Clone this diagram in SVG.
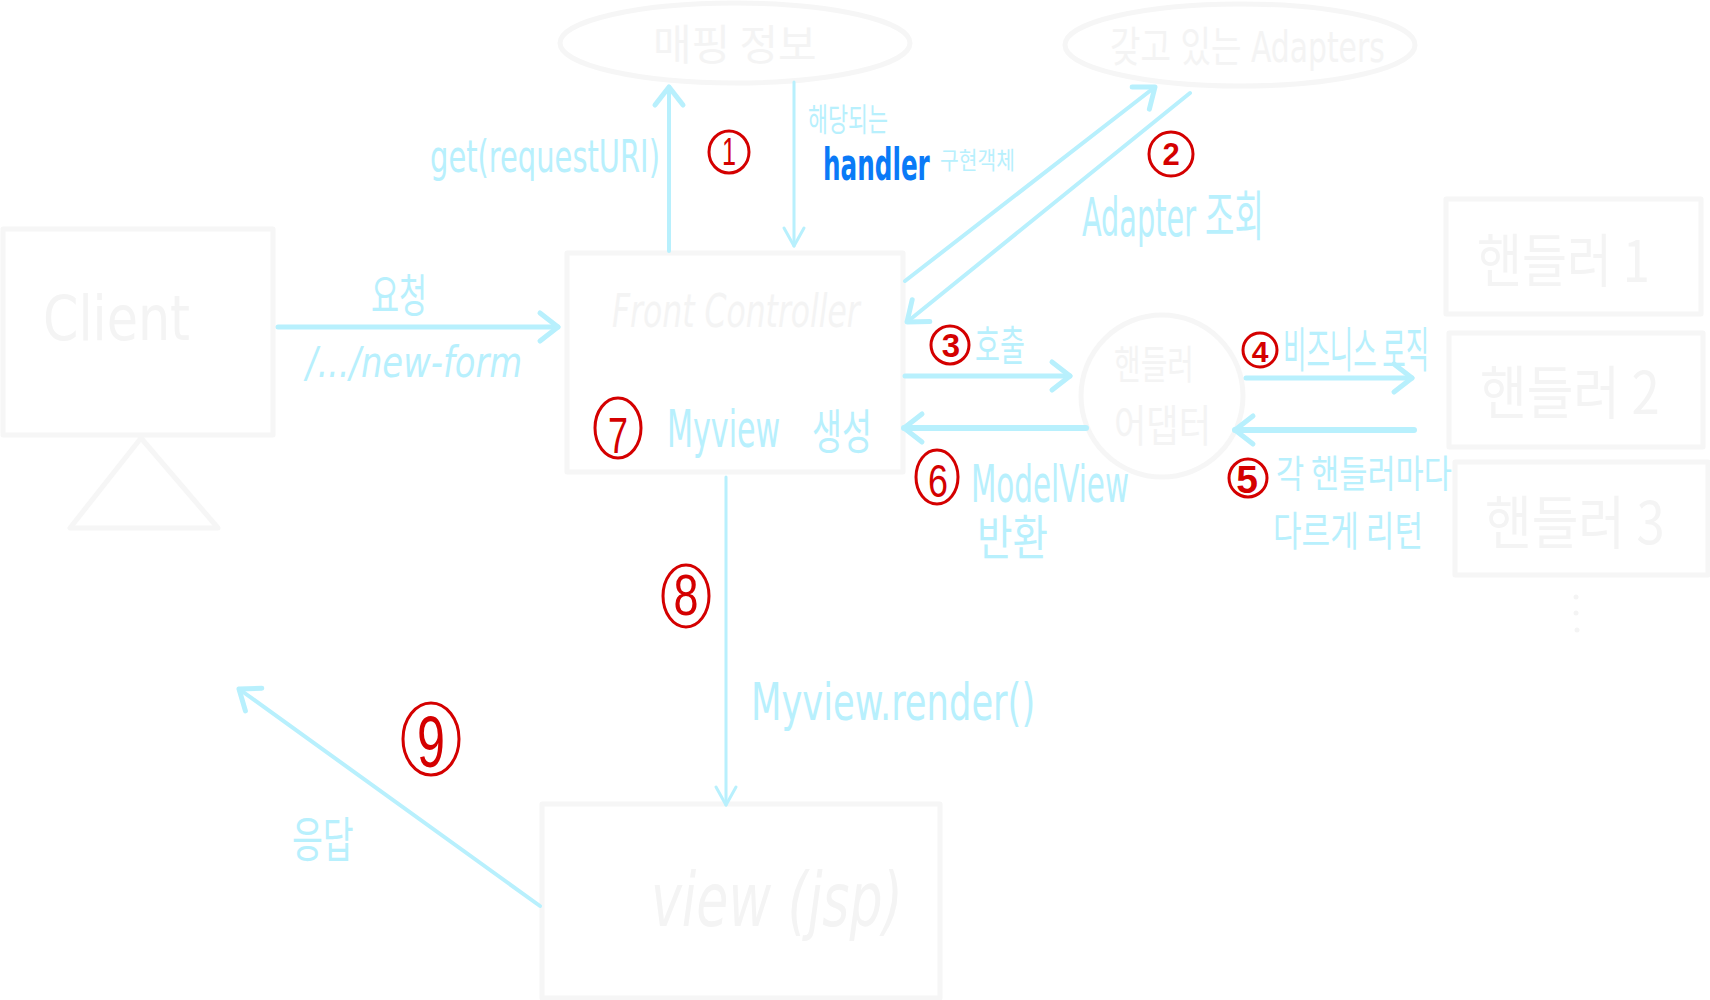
<svg xmlns="http://www.w3.org/2000/svg" width="1710" height="1000" viewBox="0 0 1710 1000">
<style>
.bg{fill:#ffffff}
.faint{fill:none;stroke:#f6f6f6;stroke-width:5;stroke-linejoin:round;stroke-linecap:round}
.ftxt{fill:#f4f4f4;font-family:"DejaVu Sans Condensed","Noto Sans CJK KR",sans-serif}
.kf{fill:#f4f4f4;font-family:"Noto Sans CJK KR",sans-serif}
.con{fill:none;stroke:#b8f0fd;stroke-linecap:round;stroke-linejoin:round}
.lbl{fill:#b8f0fd;font-family:"DejaVu Sans Condensed","Noto Sans CJK KR",sans-serif}
.klbl{fill:#b8f0fd;font-family:"Noto Sans CJK KR",sans-serif}
.num circle,.num ellipse{fill:none;stroke:#d40000;stroke-width:3}
.num text{fill:#d40000;font-family:"Liberation Sans",sans-serif;text-anchor:middle}
.num .b{font-weight:bold}
</style>
<defs>
<marker id="arr" viewBox="-24 -18 28 36" markerWidth="28" markerHeight="36" refX="0" refY="0" orient="auto" markerUnits="userSpaceOnUse">
<path d="M -18 -14 L 0 0 L -18 14" fill="none" stroke="#b8f0fd" stroke-width="5" stroke-linecap="round" stroke-linejoin="round"/>
</marker>
<marker id="arrs" viewBox="-24 -16 28 32" markerWidth="28" markerHeight="32" refX="0" refY="0" orient="auto" markerUnits="userSpaceOnUse">
<path d="M -18 -10 L 0 0 L -18 10" fill="none" stroke="#b8f0fd" stroke-width="3" stroke-linecap="round" stroke-linejoin="round"/>
</marker>
</defs>
<rect class="bg" x="0" y="0" width="1710" height="1000"/>

<g id="mapping">
<ellipse class="faint" cx="735" cy="43" rx="175" ry="40"/>
<text class="kf" transform="translate(653 60) scale(0.93 1)" font-size="42" textLength="176" lengthAdjust="spacingAndGlyphs">매핑 정보</text>
</g>
<g id="adapters">
<ellipse class="faint" cx="1240" cy="45" rx="175" ry="41"/>
<text class="ftxt" transform="translate(1110 62) scale(0.68 1)" font-size="42" textLength="404" lengthAdjust="spacingAndGlyphs">갖고 있는 Adapters</text>
</g>
<g id="client">
<rect class="faint" x="3" y="229" width="270" height="206"/>
<path class="faint" d="M141 438 L70 528 L218 528 Z"/>
<text class="ftxt" x="43" y="340" font-size="62" textLength="147" lengthAdjust="spacingAndGlyphs">Client</text>
</g>
<g id="front-controller">
<rect class="faint" x="567" y="253" width="336" height="219"/>
<text class="ftxt" transform="translate(612 327) scale(0.76 1)" font-size="46" font-style="italic" textLength="326" lengthAdjust="spacingAndGlyphs">Front Controller</text>
</g>
<g id="handler-adapter">
<circle class="faint" cx="1162" cy="396" r="81"/>
<text class="kf" font-size="40"><tspan x="1114" y="379" textLength="80" lengthAdjust="spacingAndGlyphs">핸들러</tspan><tspan x="1114" y="442" font-size="44" textLength="97" lengthAdjust="spacingAndGlyphs">어댑터</tspan></text>
</g>
<g id="handler1">
<rect class="faint" x="1446" y="199" width="255" height="115"/>
<text class="kf" transform="translate(1477 282) scale(0.79 1)" font-size="58" textLength="219" lengthAdjust="spacingAndGlyphs">핸들러 1</text>
</g>
<g id="handler2">
<rect class="faint" x="1449" y="333" width="254" height="114"/>
<text class="kf" transform="translate(1480 414) scale(0.82 1)" font-size="58" textLength="219" lengthAdjust="spacingAndGlyphs">핸들러 2</text>
</g>
<g id="handler3">
<rect class="faint" x="1455" y="462" width="253" height="113"/>
<text class="kf" transform="translate(1485 544) scale(0.82 1)" font-size="58" textLength="219" lengthAdjust="spacingAndGlyphs">핸들러 3</text>
</g>
<g id="more-dots" fill="#f4f4f4">
<circle cx="1576" cy="597" r="2.5"/>
<circle cx="1576" cy="613" r="2.5"/>
<circle cx="1577" cy="630" r="2.5"/>
</g>
<g id="view">
<rect class="faint" x="542" y="804" width="398" height="194"/>
<text class="ftxt" transform="translate(651 926) scale(0.78 1)" font-size="74" font-style="italic" textLength="323" lengthAdjust="spacingAndGlyphs">view (jsp)</text>
</g>

<g id="connectors">
<line class="con" x1="278" y1="327" x2="558" y2="327" stroke-width="5" marker-end="url(#arr)"/>
<line class="con" x1="669" y1="251" x2="669" y2="87" stroke-width="4" marker-end="url(#arr)"/>
<line class="con" x1="794" y1="82" x2="794" y2="246" stroke-width="3" marker-end="url(#arrs)"/>
<line class="con" x1="905" y1="281" x2="1155" y2="87" stroke-width="4" marker-end="url(#arr)"/>
<line class="con" x1="1190" y1="93" x2="907" y2="322" stroke-width="4" marker-end="url(#arr)"/>
<line class="con" x1="905" y1="376" x2="1070" y2="376" stroke-width="5" marker-end="url(#arr)"/>
<line class="con" x1="1086" y1="428" x2="904" y2="428" stroke-width="6" marker-end="url(#arr)"/>
<line class="con" x1="1246" y1="378" x2="1412" y2="378" stroke-width="5" marker-end="url(#arr)"/>
<line class="con" x1="1414" y1="430" x2="1235" y2="430" stroke-width="6" marker-end="url(#arr)"/>
<line class="con" x1="726" y1="477" x2="726" y2="805" stroke-width="3" marker-end="url(#arrs)"/>
<line class="con" x1="540" y1="906" x2="239" y2="689" stroke-width="4" marker-end="url(#arr)"/>
</g>

<g id="labels">
<text class="lbl" transform="translate(430 172) scale(0.73 1)" font-size="44" textLength="315" lengthAdjust="spacingAndGlyphs">get(requestURI)</text>
<text class="klbl" transform="translate(808 131) scale(0.625 1)" font-size="32" textLength="128" lengthAdjust="spacingAndGlyphs">해당되는</text>
<text transform="translate(823 180) scale(0.6 1)" font-size="44" font-weight="bold" fill="#0a7af7" font-family="DejaVu Sans Condensed, sans-serif" textLength="178" lengthAdjust="spacingAndGlyphs">handler</text>
<text class="klbl" transform="translate(940 169) scale(0.78 1)" font-size="24" textLength="96" lengthAdjust="spacingAndGlyphs">구현객체</text>
<text class="klbl" transform="translate(371 312) scale(0.61 1)" font-size="46" textLength="92" lengthAdjust="spacingAndGlyphs">요청</text>
<text class="lbl" transform="translate(306 377) scale(0.89 1)" font-size="42" font-style="italic" textLength="243" lengthAdjust="spacingAndGlyphs">/.../new-form</text>
<text class="lbl" transform="translate(1082 236) scale(0.57 1)" font-size="54" textLength="319" lengthAdjust="spacingAndGlyphs">Adapter 조회</text>
<text class="klbl" transform="translate(975 361) scale(0.6 1)" font-size="42" textLength="83" lengthAdjust="spacingAndGlyphs">호출</text>
<text class="lbl" font-size="52"><tspan x="971" y="502" textLength="158" lengthAdjust="spacingAndGlyphs">ModelView</tspan><tspan x="977" y="555" font-size="48" textLength="71" lengthAdjust="spacingAndGlyphs">반환</tspan></text>
<text class="klbl" transform="translate(1283 367) scale(0.49 1)" font-size="48" textLength="298" lengthAdjust="spacingAndGlyphs">비즈니스 로직</text>
<text class="klbl" font-size="38"><tspan x="1276" y="487" textLength="176" lengthAdjust="spacingAndGlyphs">각 핸들러마다</tspan><tspan x="1273" y="546" font-size="41" textLength="150" lengthAdjust="spacingAndGlyphs">다르게 리턴</tspan></text>
<text class="lbl" transform="translate(667 447) scale(0.64 1)" font-size="52" textLength="177" lengthAdjust="spacingAndGlyphs">Myview</text>
<text class="klbl" transform="translate(812 449) scale(0.625 1)" font-size="48" textLength="96" lengthAdjust="spacingAndGlyphs">생성</text>
<text class="lbl" transform="translate(751 720) scale(0.74 1)" font-size="52" textLength="384" lengthAdjust="spacingAndGlyphs">Myview.render()</text>
<text class="klbl" transform="translate(292 857) scale(0.65 1)" font-size="48" textLength="95" lengthAdjust="spacingAndGlyphs">응답</text>
</g>

<g id="steps" class="num">
<g id="n1"><ellipse cx="729" cy="152" rx="20" ry="21"/><text x="729" y="165" font-size="38" textLength="14" lengthAdjust="spacingAndGlyphs">1</text></g>
<g id="n2"><circle cx="1171" cy="154" r="22"/><text class="b" x="1171" y="165" font-size="31">2</text></g>
<g id="n3"><circle cx="950" cy="345" r="19"/><text class="b" x="951" y="357" font-size="33">3</text></g>
<g id="n4"><circle cx="1260" cy="350" r="17"/><text class="b" x="1260" y="362" font-size="30">4</text></g>
<g id="n5"><circle cx="1248" cy="478" r="19"/><text class="b" x="1247" y="493" font-size="39">5</text></g>
<g id="n6"><ellipse cx="937" cy="477" rx="21" ry="27"/><text x="938" y="497" font-size="47" textLength="20" lengthAdjust="spacingAndGlyphs">6</text></g>
<g id="n7"><ellipse cx="618" cy="428" rx="23" ry="30"/><text x="618" y="453" font-size="50" textLength="20" lengthAdjust="spacingAndGlyphs">7</text></g>
<g id="n8"><ellipse cx="686" cy="596" rx="23" ry="31"/><text x="686" y="615" font-size="58" textLength="25" lengthAdjust="spacingAndGlyphs">8</text></g>
<g id="n9"><ellipse cx="431" cy="739" rx="28" ry="36"/><text x="431" y="767" font-size="72" textLength="28" lengthAdjust="spacingAndGlyphs">9</text></g>
</g>
</svg>
